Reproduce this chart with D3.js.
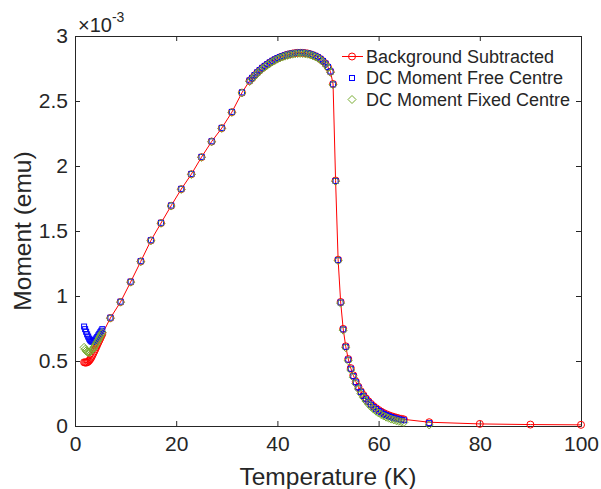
<!DOCTYPE html>
<html>
<head>
<meta charset="utf-8">
<script src="https://cdn.jsdelivr.net/npm/d3@7"></script>
<style>
  body { margin: 0; background: #fff; }
  svg { display: block; }
  text { font-family: "Liberation Sans", Arial, Helvetica, sans-serif; fill: #262626; }
</style>
</head>
<body>
<svg id="chart" width="601" height="489"></svg>
<script>
// ---- data (moment in units of 1e-3 emu) ----
const temperatureK = [
  1.8,2.0,2.2,2.4,2.6,2.8,3.0,3.2,3.4,3.6,3.8,4.0,4.2,4.4,4.6,4.8,5.0,5.2,5.4,
  7,9,11,13,15,17,19,21,23,25,27,29,31,33,
  34.5,35,35.5,36,36.5,37,37.5,38,38.5,39,39.5,40,40.5,41,41.5,42,42.5,43,43.5,44,44.5,45,45.5,46,46.5,47,47.5,48,48.5,49,49.5,50,50.5,
  51,51.5,52,52.5,53,53.5,54,54.5,55,55.5,56,56.5,57,57.5,58,58.5,59,59.5,60,60.5,61,61.5,62,62.5,63,63.5,64,64.5,65,
  70,80,90,100
];
const bgSubtracted = [
  0.490,0.488,0.488,0.490,0.495,0.503,0.513,0.525,0.540,0.556,0.573,0.590,0.607,0.624,0.641,0.658,0.675,0.692,0.708,
  0.831,0.954,1.108,1.266,1.427,1.561,1.694,1.822,1.937,2.068,2.188,2.291,2.414,2.564,
  2.655,2.675,2.697,2.717,2.735,2.752,2.767,2.781,2.794,2.806,2.817,2.827,2.836,2.843,2.850,2.856,2.861,2.865,2.868,2.870,2.871,2.870,2.868,2.865,2.860,2.853,2.845,2.835,2.822,2.806,2.786,2.760,2.725,
  2.631,1.888,1.279,0.954,0.747,0.613,0.515,0.445,0.390,0.342,0.302,0.267,0.238,0.212,0.190,0.170,0.152,0.137,0.123,0.111,0.100,0.091,0.083,0.076,0.070,0.064,0.059,0.055,0.051,
  0.029,0.016,0.011,0.009
];
const freeCentre = [
  0.765,0.745,0.725,0.705,0.688,0.672,0.660,0.652,0.648,0.650,0.656,0.664,0.674,0.685,0.697,0.709,0.721,0.733,0.745,
  0.833,0.956,1.110,1.268,1.429,1.563,1.696,1.824,1.939,2.070,2.190,2.293,2.416,2.566,
  2.658,2.678,2.700,2.720,2.738,2.755,2.770,2.784,2.797,2.809,2.820,2.830,2.838,2.846,2.852,2.858,2.863,2.867,2.870,2.872,2.873,2.872,2.870,2.867,2.862,2.855,2.847,2.837,2.824,2.808,2.788,2.762,2.727,
  2.628,1.885,1.276,0.950,0.743,0.609,0.510,0.440,0.384,0.336,0.296,0.261,0.231,0.205,0.183,0.163,0.145,0.130,0.116,0.104,0.093,0.084,0.076,0.069,0.063,0.057,0.052,0.048,0.044,
  0.022,null,null,null
];
const fixedCentre = [
  0.605,0.590,0.578,0.570,0.566,0.566,0.570,0.577,0.586,0.597,0.609,0.622,0.636,0.650,0.664,0.678,0.692,0.706,0.720,
  0.829,0.952,1.106,1.264,1.425,1.559,1.692,1.820,1.935,2.066,2.186,2.289,2.412,2.562,
  2.650,2.670,2.692,2.712,2.730,2.747,2.762,2.776,2.789,2.801,2.812,2.822,2.831,2.838,2.845,2.851,2.856,2.860,2.863,2.865,2.866,2.865,2.863,2.860,2.855,2.848,2.840,2.830,2.817,2.801,2.781,2.755,2.720,
  2.625,1.882,1.272,0.945,0.737,0.602,0.502,0.431,0.375,0.326,0.285,0.249,0.219,0.192,0.169,0.148,0.130,0.114,0.100,0.088,0.077,0.068,0.060,0.053,0.047,0.041,0.036,0.032,0.028,
  0.008,null,null,null
];
const xTicks = [0,20,40,60,80,100];
const yTicks = [0,0.5,1,1.5,2,2.5,3];
const seriesNames = ["Background Subtracted","DC Moment Free Centre","DC Moment Fixed Centre"];
const seriesColors = ["#FF0000","#0000FF","#77AC30"];

// ---- layout ----
const svg = d3.select("#chart");
const L = 75, R = 581, T = 36, B = 426;
const x = d3.scaleLinear().domain([0,100]).range([L,R]);
const y = d3.scaleLinear().domain([0,3]).range([B,T]);
const axisColor = "#262626";

function styleAxis(g){
  g.select(".domain").attr("stroke", axisColor);
  g.selectAll(".tick line").attr("stroke", axisColor);
  g.selectAll("text").attr("fill", axisColor).style("font-size","21px")
    .attr("font-family","Liberation Sans, Arial, Helvetica, sans-serif");
}

svg.append("g").attr("transform",`translate(0,${B})`)
  .call(d3.axisBottom(x).tickValues(xTicks).tickSizeInner(-5).tickSizeOuter(0).tickPadding(10).tickFormat(d3.format("d")))
  .call(styleAxis);
svg.append("g").attr("transform",`translate(0,${T})`)
  .call(d3.axisTop(x).tickValues(xTicks).tickSizeInner(-5).tickSizeOuter(0).tickFormat(""))
  .call(styleAxis);
svg.append("g").attr("transform",`translate(${L},0)`)
  .call(d3.axisLeft(y).tickValues(yTicks).tickSizeInner(-5).tickSizeOuter(0).tickPadding(7).tickFormat(d => d3.format("~g")(d)))
  .call(styleAxis);
svg.append("g").attr("transform",`translate(${R},0)`)
  .call(d3.axisRight(y).tickValues(yTicks).tickSizeInner(-5).tickSizeOuter(0).tickFormat(""))
  .call(styleAxis);

// exponent label
const ex = svg.append("text").attr("x", 78).attr("y", 32).style("font-size","20px");
ex.append("tspan").text("\u00d710");
ex.append("tspan").attr("dy", -10).style("font-size","14px").text("-3");

// axis labels
svg.append("text").attr("x",(L+R)/2).attr("y",485).attr("text-anchor","middle")
  .style("font-size","24.5px").text("Temperature (K)");
svg.append("text").attr("transform",`translate(31,${(T+B)/2}) rotate(-90)`).attr("text-anchor","middle")
  .style("font-size","24.5px").text("Moment (emu)");

// ---- series ----
const redPts = temperatureK.map((t,i)=>({t, v: bgSubtracted[i]}));
const bluePts = temperatureK.map((t,i)=>({t, v: freeCentre[i]})).filter(d=>d.v!=null);
const greenPts = temperatureK.map((t,i)=>({t, v: fixedCentre[i]})).filter(d=>d.v!=null);

const SQ = 5, DI = 4;
const plot = svg.append("g");
plot.append("path").datum(redPts)
  .attr("fill","none").attr("stroke",seriesColors[0]).attr("stroke-width",1)
  .attr("d", d3.line().x(d=>x(d.t)).y(d=>y(d.v)));
plot.selectAll("circle.red").data(redPts).join("circle")
  .attr("cx",d=>x(d.t)).attr("cy",d=>y(d.v)).attr("r",3.5)
  .attr("fill","none").attr("stroke",seriesColors[0]).attr("stroke-width",1);
plot.selectAll("rect.blue").data(bluePts).join("rect")
  .attr("x",d=>x(d.t)-SQ/2).attr("y",d=>y(d.v)-SQ/2).attr("width",SQ).attr("height",SQ)
  .attr("fill","none").attr("stroke",seriesColors[1]).attr("stroke-width",1);
const diamond = (cx,cy)=>`M${cx},${cy-DI}L${cx+DI},${cy}L${cx},${cy+DI}L${cx-DI},${cy}Z`;
plot.selectAll("path.green").data(greenPts).join("path")
  .attr("d",d=>diamond(x(d.t),y(d.v)))
  .attr("fill","none").attr("stroke",seriesColors[2]).attr("stroke-width",1);

// ---- legend ----
const lg = svg.append("g");
const rowY = [56.5, 78, 99.5];
const mx = 352;
lg.append("line").attr("x1",342).attr("x2",363).attr("y1",rowY[0]).attr("y2",rowY[0])
  .attr("stroke",seriesColors[0]).attr("stroke-width",1);
lg.append("circle").attr("cx",mx).attr("cy",rowY[0]).attr("r",3.5)
  .attr("fill","none").attr("stroke",seriesColors[0]);
lg.append("rect").attr("x",mx-SQ/2).attr("y",rowY[1]-SQ/2).attr("width",SQ).attr("height",SQ)
  .attr("fill","none").attr("stroke",seriesColors[1]);
lg.append("path").attr("d",diamond(mx,rowY[2]))
  .attr("fill","none").attr("stroke",seriesColors[2]);
seriesNames.forEach((n,i)=>{
  lg.append("text").attr("x",366).attr("y",rowY[i]+6.3).style("font-size","18px").text(n);
});
</script>
</body>
</html>
